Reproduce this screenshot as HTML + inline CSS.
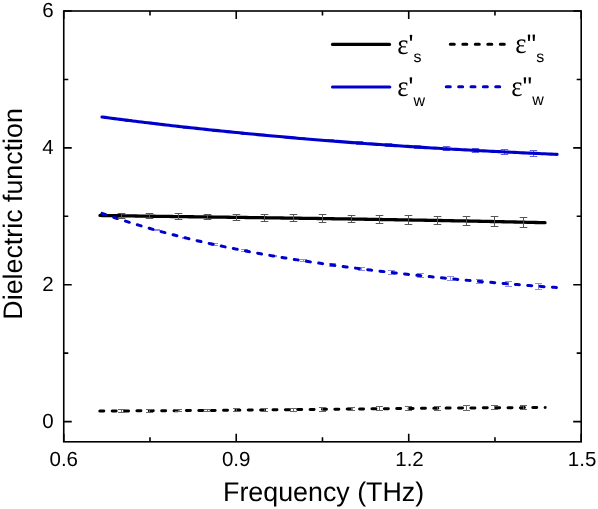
<!DOCTYPE html>
<html><head><meta charset="utf-8"><style>
html,body{margin:0;padding:0;background:#fff;}
svg{display:block;will-change:transform;}
text{font-family:"Liberation Sans",sans-serif;fill:#000;text-rendering:geometricPrecision;}
.tl{font-size:20.5px;}
.at{font-size:26.8px;}
.eps{font-family:"Liberation Serif",serif;font-size:29px;}
.lg{font-size:28.5px;}
.sub{font-size:16px;}
</style></head><body>
<svg width="598" height="509" viewBox="0 0 598 509">
<rect width="598" height="509" fill="#fff"/>
<path d="M156.50,229.50V230.50M153.00,229.50h7.0M153.00,230.50h7.0" stroke="#8c8ce8" stroke-width="1" fill="none"/>
<path d="M185.50,237.50V238.50M182.00,237.50h7.0M182.00,238.50h7.0" stroke="#8c8ce8" stroke-width="1" fill="none"/>
<path d="M214.50,243.50V245.50M211.00,243.50h7.0M211.00,245.50h7.0" stroke="#8c8ce8" stroke-width="1" fill="none"/>
<path d="M244.50,249.50V251.50M241.00,249.50h7.0M241.00,251.50h7.0" stroke="#8c8ce8" stroke-width="1" fill="none"/>
<path d="M273.50,255.50V256.50M270.00,255.50h7.0M270.00,256.50h7.0" stroke="#8c8ce8" stroke-width="1" fill="none"/>
<path d="M303.50,259.50V261.50M300.00,259.50h7.0M300.00,261.50h7.0" stroke="#8c8ce8" stroke-width="1" fill="none"/>
<path d="M332.50,263.50V266.50M329.00,263.50h7.0M329.00,266.50h7.0" stroke="#8c8ce8" stroke-width="1" fill="none"/>
<path d="M361.50,267.50V270.50M358.00,267.50h7.0M358.00,270.50h7.0" stroke="#8c8ce8" stroke-width="1" fill="none"/>
<path d="M391.50,270.50V274.50M388.00,270.50h7.0M388.00,274.50h7.0" stroke="#8c8ce8" stroke-width="1" fill="none"/>
<path d="M420.50,273.50V277.50M417.00,273.50h7.0M417.00,277.50h7.0" stroke="#8c8ce8" stroke-width="1" fill="none"/>
<path d="M450.50,276.50V280.50M447.00,276.50h7.0M447.00,280.50h7.0" stroke="#8c8ce8" stroke-width="1" fill="none"/>
<path d="M479.50,279.50V283.50M476.00,279.50h7.0M476.00,283.50h7.0" stroke="#8c8ce8" stroke-width="1" fill="none"/>
<path d="M508.50,281.50V286.50M505.00,281.50h7.0M505.00,286.50h7.0" stroke="#8c8ce8" stroke-width="1" fill="none"/>
<path d="M538.50,283.50V289.50M535.00,283.50h7.0M535.00,289.50h7.0" stroke="#8c8ce8" stroke-width="1" fill="none"/>
<path d="M533.50,150.50V156.50M529.80,150.50h7.4M529.80,156.50h7.4" stroke="#6060e0" stroke-width="1" fill="none"/>
<path d="M504.50,149.50V154.50M500.80,149.50h7.4M500.80,154.50h7.4" stroke="#6060e0" stroke-width="1" fill="none"/>
<path d="M475.50,148.50V152.50M471.80,148.50h7.4M471.80,152.50h7.4" stroke="#6060e0" stroke-width="1" fill="none"/>
<path d="M446.50,146.50V150.50M442.80,146.50h7.4M442.80,150.50h7.4" stroke="#6060e0" stroke-width="1" fill="none"/>
<path d="M417.50,145.50V148.50M413.80,145.50h7.4M413.80,148.50h7.4" stroke="#6060e0" stroke-width="1" fill="none"/>
<path d="M388.50,143.50V146.50M384.80,143.50h7.4M384.80,146.50h7.4" stroke="#6060e0" stroke-width="1" fill="none"/>
<path d="M359.50,141.50V144.50M355.80,141.50h7.4M355.80,144.50h7.4" stroke="#6060e0" stroke-width="1" fill="none"/>
<path d="M330.50,139.50V141.50M326.80,139.50h7.4M326.80,141.50h7.4" stroke="#6060e0" stroke-width="1" fill="none"/>
<path d="M301.50,137.50V139.50M297.80,137.50h7.4M297.80,139.50h7.4" stroke="#6060e0" stroke-width="1" fill="none"/>
<path d="M273.50,135.50V136.50M269.80,135.50h7.4M269.80,136.50h7.4" stroke="#6060e0" stroke-width="1" fill="none"/>
<path d="M244.50,132.50V134.50M240.80,132.50h7.4M240.80,134.50h7.4" stroke="#6060e0" stroke-width="1" fill="none"/>
<path d="M215.50,129.50V131.50M211.80,129.50h7.4M211.80,131.50h7.4" stroke="#6060e0" stroke-width="1" fill="none"/>
<path d="M186.50,126.50V128.50M182.80,126.50h7.4M182.80,128.50h7.4" stroke="#6060e0" stroke-width="1" fill="none"/>
<path d="M157.50,123.50V124.50M153.80,123.50h7.4M153.80,124.50h7.4" stroke="#6060e0" stroke-width="1" fill="none"/>
<path d="M128.50,119.50V121.50M124.80,119.50h7.4M124.80,121.50h7.4" stroke="#6060e0" stroke-width="1" fill="none"/>
<path d="M100.00,215.47 L102.99,215.51 L105.97,215.56 L108.96,215.60 L111.95,215.64 L114.93,215.69 L117.92,215.73 L120.91,215.77 L123.89,215.82 L126.88,215.86 L129.87,215.90 L132.85,215.94 L135.84,215.99 L138.83,216.03 L141.81,216.07 L144.80,216.11 L147.79,216.15 L150.77,216.20 L153.76,216.24 L156.74,216.28 L159.73,216.32 L162.72,216.36 L165.70,216.40 L168.69,216.45 L171.68,216.49 L174.66,216.53 L177.65,216.57 L180.64,216.61 L183.62,216.65 L186.61,216.69 L189.60,216.73 L192.58,216.77 L195.57,216.81 L198.56,216.85 L201.54,216.90 L204.53,216.94 L207.52,216.98 L210.50,217.02 L213.49,217.06 L216.48,217.10 L219.46,217.14 L222.45,217.18 L225.44,217.22 L228.42,217.26 L231.41,217.30 L234.40,217.34 L237.38,217.38 L240.37,217.43 L243.36,217.47 L246.34,217.51 L249.33,217.55 L252.32,217.59 L255.30,217.63 L258.29,217.67 L261.28,217.71 L264.26,217.75 L267.25,217.80 L270.23,217.84 L273.22,217.88 L276.21,217.92 L279.19,217.96 L282.18,218.00 L285.17,218.05 L288.15,218.09 L291.14,218.13 L294.13,218.17 L297.11,218.22 L300.10,218.26 L303.09,218.30 L306.07,218.34 L309.06,218.39 L312.05,218.43 L315.03,218.47 L318.02,218.52 L321.01,218.56 L323.99,218.61 L326.98,218.65 L329.97,218.69 L332.95,218.74 L335.94,218.78 L338.93,218.83 L341.91,218.87 L344.90,218.92 L347.89,218.96 L350.87,219.01 L353.86,219.06 L356.85,219.10 L359.83,219.15 L362.82,219.20 L365.81,219.24 L368.79,219.29 L371.78,219.34 L374.77,219.39 L377.75,219.43 L380.74,219.48 L383.72,219.53 L386.71,219.58 L389.70,219.63 L392.68,219.68 L395.67,219.73 L398.66,219.78 L401.64,219.83 L404.63,219.88 L407.62,219.93 L410.60,219.98 L413.59,220.03 L416.58,220.08 L419.56,220.14 L422.55,220.19 L425.54,220.24 L428.52,220.29 L431.51,220.35 L434.50,220.40 L437.48,220.46 L440.47,220.51 L443.46,220.57 L446.44,220.62 L449.43,220.68 L452.42,220.73 L455.40,220.79 L458.39,220.85 L461.38,220.91 L464.36,220.96 L467.35,221.02 L470.34,221.08 L473.32,221.14 L476.31,221.20 L479.30,221.26 L482.28,221.32 L485.27,221.38 L488.26,221.44 L491.24,221.50 L494.23,221.56 L497.21,221.63 L500.20,221.69 L503.19,221.75 L506.17,221.82 L509.16,221.88 L512.15,221.95 L515.13,222.01 L518.12,222.08 L521.11,222.15 L524.09,222.21 L527.08,222.28 L530.07,222.35 L533.05,222.42 L536.04,222.49 L539.03,222.56 L542.01,222.63 L545.00,222.70" stroke="#000" stroke-width="3.3" fill="none" stroke-linecap="round"/>
<path d="M99.80,410.94 L102.79,410.94 L105.78,410.93 L108.77,410.93 L111.76,410.93 L114.75,410.92 L117.74,410.91 L120.72,410.91 L123.71,410.90 L126.70,410.89 L129.69,410.88 L132.68,410.87 L135.67,410.86 L138.66,410.85 L141.65,410.84 L144.64,410.83 L147.63,410.81 L150.62,410.80 L153.61,410.79 L156.60,410.77 L159.59,410.76 L162.57,410.74 L165.56,410.72 L168.55,410.71 L171.54,410.69 L174.53,410.67 L177.52,410.65 L180.51,410.64 L183.50,410.62 L186.49,410.60 L189.48,410.58 L192.47,410.56 L195.46,410.53 L198.45,410.51 L201.43,410.49 L204.42,410.47 L207.41,410.44 L210.40,410.42 L213.39,410.40 L216.38,410.37 L219.37,410.35 L222.36,410.32 L225.35,410.30 L228.34,410.27 L231.33,410.25 L234.32,410.22 L237.31,410.19 L240.30,410.17 L243.28,410.14 L246.27,410.11 L249.26,410.08 L252.25,410.06 L255.24,410.03 L258.23,410.00 L261.22,409.97 L264.21,409.94 L267.20,409.91 L270.19,409.88 L273.18,409.85 L276.17,409.82 L279.16,409.79 L282.14,409.76 L285.13,409.73 L288.12,409.70 L291.11,409.67 L294.10,409.64 L297.09,409.61 L300.08,409.58 L303.07,409.55 L306.06,409.52 L309.05,409.48 L312.04,409.45 L315.03,409.42 L318.02,409.39 L321.01,409.36 L323.99,409.33 L326.98,409.29 L329.97,409.26 L332.96,409.23 L335.95,409.20 L338.94,409.17 L341.93,409.14 L344.92,409.10 L347.91,409.07 L350.90,409.04 L353.89,409.01 L356.88,408.98 L359.87,408.95 L362.86,408.91 L365.84,408.88 L368.83,408.85 L371.82,408.82 L374.81,408.79 L377.80,408.76 L380.79,408.73 L383.78,408.70 L386.77,408.67 L389.76,408.64 L392.75,408.61 L395.74,408.58 L398.73,408.55 L401.72,408.52 L404.70,408.49 L407.69,408.46 L410.68,408.43 L413.67,408.40 L416.66,408.38 L419.65,408.35 L422.64,408.32 L425.63,408.29 L428.62,408.27 L431.61,408.24 L434.60,408.21 L437.59,408.19 L440.58,408.16 L443.57,408.14 L446.55,408.11 L449.54,408.09 L452.53,408.06 L455.52,408.04 L458.51,408.02 L461.50,407.99 L464.49,407.97 L467.48,407.95 L470.47,407.93 L473.46,407.90 L476.45,407.88 L479.44,407.86 L482.43,407.84 L485.41,407.82 L488.40,407.81 L491.39,407.79 L494.38,407.77 L497.37,407.75 L500.36,407.73 L503.35,407.72 L506.34,407.70 L509.33,407.69 L512.32,407.67 L515.31,407.66 L518.30,407.65 L521.29,407.63 L524.28,407.62 L527.26,407.61 L530.25,407.60 L533.24,407.59 L536.23,407.58 L539.22,407.57 L542.21,407.56 L545.20,407.55" stroke="#000" stroke-width="3" fill="none" stroke-linecap="round" stroke-dasharray="4 8.37"/>
<path d="M102.00,117.00 L105.05,117.40 L108.11,117.81 L111.16,118.20 L114.22,118.60 L117.27,118.99 L120.33,119.38 L123.38,119.77 L126.43,120.16 L129.49,120.54 L132.54,120.93 L135.60,121.30 L138.65,121.68 L141.71,122.06 L144.76,122.43 L147.82,122.80 L150.87,123.16 L153.92,123.53 L156.98,123.89 L160.03,124.25 L163.09,124.61 L166.14,124.96 L169.20,125.32 L172.25,125.67 L175.30,126.02 L178.36,126.36 L181.41,126.71 L184.47,127.05 L187.52,127.39 L190.58,127.72 L193.63,128.06 L196.69,128.39 L199.74,128.72 L202.79,129.05 L205.85,129.38 L208.90,129.70 L211.96,130.02 L215.01,130.34 L218.07,130.66 L221.12,130.97 L224.17,131.29 L227.23,131.60 L230.28,131.90 L233.34,132.21 L236.39,132.52 L239.45,132.82 L242.50,133.12 L245.56,133.42 L248.61,133.71 L251.66,134.00 L254.72,134.30 L257.77,134.59 L260.83,134.87 L263.88,135.16 L266.94,135.44 L269.99,135.72 L273.04,136.00 L276.10,136.28 L279.15,136.56 L282.21,136.83 L285.26,137.10 L288.32,137.37 L291.37,137.64 L294.42,137.90 L297.48,138.17 L300.53,138.43 L303.59,138.69 L306.64,138.94 L309.70,139.20 L312.75,139.45 L315.81,139.71 L318.86,139.96 L321.91,140.20 L324.97,140.45 L328.02,140.69 L331.08,140.94 L334.13,141.18 L337.19,141.42 L340.24,141.65 L343.29,141.89 L346.35,142.12 L349.40,142.35 L352.46,142.58 L355.51,142.81 L358.57,143.04 L361.62,143.26 L364.68,143.48 L367.73,143.71 L370.78,143.92 L373.84,144.14 L376.89,144.36 L379.95,144.57 L383.00,144.78 L386.06,144.99 L389.11,145.20 L392.16,145.41 L395.22,145.62 L398.27,145.82 L401.33,146.02 L404.38,146.22 L407.44,146.42 L410.49,146.62 L413.54,146.81 L416.60,147.01 L419.65,147.20 L422.71,147.39 L425.76,147.58 L428.82,147.77 L431.87,147.95 L434.93,148.14 L437.98,148.32 L441.03,148.50 L444.09,148.68 L447.14,148.86 L450.20,149.04 L453.25,149.21 L456.31,149.39 L459.36,149.56 L462.41,149.73 L465.47,149.90 L468.52,150.07 L471.58,150.23 L474.63,150.40 L477.69,150.56 L480.74,150.72 L483.80,150.89 L486.85,151.04 L489.90,151.20 L492.96,151.36 L496.01,151.51 L499.07,151.67 L502.12,151.82 L505.18,151.97 L508.23,152.12 L511.28,152.27 L514.34,152.42 L517.39,152.56 L520.45,152.70 L523.50,152.85 L526.56,152.99 L529.61,153.13 L532.67,153.27 L535.72,153.41 L538.77,153.54 L541.83,153.68 L544.88,153.81 L547.94,153.95 L550.99,154.08 L554.05,154.21 L557.10,154.34" stroke="#0000cc" stroke-width="3.1" fill="none" stroke-linecap="round"/>
<path d="M102.00,213.37 L105.05,214.42 L108.10,215.46 L111.16,216.48 L114.21,217.50 L117.26,218.50 L120.31,219.49 L123.37,220.46 L126.42,221.43 L129.47,222.38 L132.52,223.32 L135.58,224.25 L138.63,225.17 L141.68,226.07 L144.73,226.97 L147.79,227.85 L150.84,228.72 L153.89,229.59 L156.94,230.44 L159.99,231.28 L163.05,232.11 L166.10,232.93 L169.15,233.73 L172.20,234.53 L175.26,235.32 L178.31,236.10 L181.36,236.87 L184.41,237.63 L187.47,238.38 L190.52,239.12 L193.57,239.85 L196.62,240.57 L199.68,241.28 L202.73,241.98 L205.78,242.67 L208.83,243.36 L211.88,244.04 L214.94,244.70 L217.99,245.36 L221.04,246.01 L224.09,246.65 L227.15,247.29 L230.20,247.91 L233.25,248.53 L236.30,249.14 L239.36,249.75 L242.41,250.34 L245.46,250.93 L248.51,251.51 L251.57,252.08 L254.62,252.65 L257.67,253.21 L260.72,253.76 L263.77,254.31 L266.83,254.84 L269.88,255.38 L272.93,255.90 L275.98,256.42 L279.04,256.94 L282.09,257.44 L285.14,257.94 L288.19,258.44 L291.25,258.93 L294.30,259.41 L297.35,259.89 L300.40,260.37 L303.46,260.83 L306.51,261.30 L309.56,261.75 L312.61,262.21 L315.66,262.66 L318.72,263.10 L321.77,263.54 L324.82,263.97 L327.87,264.40 L330.93,264.83 L333.98,265.25 L337.03,265.67 L340.08,266.08 L343.14,266.49 L346.19,266.90 L349.24,267.30 L352.29,267.70 L355.34,268.10 L358.40,268.49 L361.45,268.87 L364.50,269.26 L367.55,269.64 L370.61,270.01 L373.66,270.39 L376.71,270.76 L379.76,271.12 L382.82,271.48 L385.87,271.84 L388.92,272.20 L391.97,272.55 L395.03,272.90 L398.08,273.24 L401.13,273.59 L404.18,273.93 L407.23,274.26 L410.29,274.59 L413.34,274.92 L416.39,275.25 L419.44,275.57 L422.50,275.89 L425.55,276.21 L428.60,276.53 L431.65,276.84 L434.71,277.15 L437.76,277.45 L440.81,277.76 L443.86,278.06 L446.92,278.35 L449.97,278.65 L453.02,278.94 L456.07,279.23 L459.12,279.52 L462.18,279.80 L465.23,280.09 L468.28,280.37 L471.33,280.64 L474.39,280.92 L477.44,281.19 L480.49,281.46 L483.54,281.73 L486.60,282.00 L489.65,282.26 L492.70,282.52 L495.75,282.78 L498.81,283.04 L501.86,283.30 L504.91,283.55 L507.96,283.80 L511.01,284.05 L514.07,284.30 L517.12,284.54 L520.17,284.79 L523.22,285.03 L526.28,285.27 L529.33,285.51 L532.38,285.75 L535.43,285.98 L538.49,286.22 L541.54,286.45 L544.59,286.68 L547.64,286.91 L550.70,287.14 L553.75,287.36 L556.80,287.59" stroke="#0000cc" stroke-width="3" fill="none" stroke-linecap="round" stroke-dasharray="4 8.37"/>
<path d="M121.50,213.50V218.50M117.70,213.50h7.6M117.70,218.50h7.6" stroke="#555" stroke-width="1" fill="none"/>
<path d="M121.50,409.50V412.50M118.00,409.50h7.0M118.00,412.50h7.0" stroke="#666" stroke-width="1" fill="none"/>
<path d="M149.50,213.50V218.50M145.70,213.50h7.6M145.70,218.50h7.6" stroke="#555" stroke-width="1" fill="none"/>
<path d="M149.50,409.50V412.50M146.00,409.50h7.0M146.00,412.50h7.0" stroke="#666" stroke-width="1" fill="none"/>
<path d="M178.50,213.50V219.50M174.70,213.50h7.6M174.70,219.50h7.6" stroke="#555" stroke-width="1" fill="none"/>
<path d="M178.50,409.50V411.50M175.00,409.50h7.0M175.00,411.50h7.0" stroke="#666" stroke-width="1" fill="none"/>
<path d="M207.50,214.50V219.50M203.70,214.50h7.6M203.70,219.50h7.6" stroke="#555" stroke-width="1" fill="none"/>
<path d="M207.50,409.50V411.50M204.00,409.50h7.0M204.00,411.50h7.0" stroke="#666" stroke-width="1" fill="none"/>
<path d="M236.50,214.50V220.50M232.70,214.50h7.6M232.70,220.50h7.6" stroke="#555" stroke-width="1" fill="none"/>
<path d="M236.50,408.50V411.50M233.00,408.50h7.0M233.00,411.50h7.0" stroke="#666" stroke-width="1" fill="none"/>
<path d="M264.50,214.50V221.50M260.70,214.50h7.6M260.70,221.50h7.6" stroke="#555" stroke-width="1" fill="none"/>
<path d="M264.50,408.50V411.50M261.00,408.50h7.0M261.00,411.50h7.0" stroke="#666" stroke-width="1" fill="none"/>
<path d="M293.50,214.50V221.50M289.70,214.50h7.6M289.70,221.50h7.6" stroke="#555" stroke-width="1" fill="none"/>
<path d="M293.50,408.50V411.50M290.00,408.50h7.0M290.00,411.50h7.0" stroke="#666" stroke-width="1" fill="none"/>
<path d="M322.50,214.50V222.50M318.70,214.50h7.6M318.70,222.50h7.6" stroke="#555" stroke-width="1" fill="none"/>
<path d="M322.50,407.50V411.50M319.00,407.50h7.0M319.00,411.50h7.0" stroke="#666" stroke-width="1" fill="none"/>
<path d="M351.50,215.50V222.50M347.70,215.50h7.6M347.70,222.50h7.6" stroke="#555" stroke-width="1" fill="none"/>
<path d="M351.50,407.50V410.50M348.00,407.50h7.0M348.00,410.50h7.0" stroke="#666" stroke-width="1" fill="none"/>
<path d="M379.50,215.50V223.50M375.70,215.50h7.6M375.70,223.50h7.6" stroke="#555" stroke-width="1" fill="none"/>
<path d="M379.50,406.50V410.50M376.00,406.50h7.0M376.00,410.50h7.0" stroke="#666" stroke-width="1" fill="none"/>
<path d="M408.50,215.50V224.50M404.70,215.50h7.6M404.70,224.50h7.6" stroke="#555" stroke-width="1" fill="none"/>
<path d="M408.50,406.50V410.50M405.00,406.50h7.0M405.00,410.50h7.0" stroke="#666" stroke-width="1" fill="none"/>
<path d="M437.50,216.50V224.50M433.70,216.50h7.6M433.70,224.50h7.6" stroke="#555" stroke-width="1" fill="none"/>
<path d="M437.50,406.50V410.50M434.00,406.50h7.0M434.00,410.50h7.0" stroke="#666" stroke-width="1" fill="none"/>
<path d="M466.50,216.50V225.50M462.70,216.50h7.6M462.70,225.50h7.6" stroke="#555" stroke-width="1" fill="none"/>
<path d="M466.50,405.50V410.50M463.00,405.50h7.0M463.00,410.50h7.0" stroke="#666" stroke-width="1" fill="none"/>
<path d="M494.50,216.50V226.50M490.70,216.50h7.6M490.70,226.50h7.6" stroke="#555" stroke-width="1" fill="none"/>
<path d="M494.50,405.50V409.50M491.00,405.50h7.0M491.00,409.50h7.0" stroke="#666" stroke-width="1" fill="none"/>
<path d="M523.50,217.50V227.50M519.70,217.50h7.6M519.70,227.50h7.6" stroke="#555" stroke-width="1" fill="none"/>
<path d="M523.50,405.50V409.50M520.00,405.50h7.0M520.00,409.50h7.0" stroke="#666" stroke-width="1" fill="none"/>
<rect x="63.75" y="11.0" width="517.45" height="430.8" fill="none" stroke="#000" stroke-width="1.6"/>
<path d="M63.75,421.60h8M581.2,421.60h-8M63.75,353.17h4.5M581.2,353.17h-4.5M63.75,284.73h8M581.2,284.73h-8M63.75,216.30h4.5M581.2,216.30h-4.5M63.75,147.87h8M581.2,147.87h-8M63.75,79.43h4.5M581.2,79.43h-4.5M63.75,11.00h8M581.2,11.00h-8M63.75,441.8v-8M63.75,11.0v8M149.99,441.8v-4.5M149.99,11.0v4.5M236.23,441.8v-8M236.23,11.0v8M322.47,441.8v-4.5M322.47,11.0v4.5M408.72,441.8v-8M408.72,11.0v8M494.96,441.8v-4.5M494.96,11.0v4.5M581.20,441.8v-8M581.20,11.0v8" stroke="#000" stroke-width="1.6" fill="none"/>
<text x="53.6" y="427.70" text-anchor="end" class="tl">0</text>
<text x="53.6" y="290.83" text-anchor="end" class="tl">2</text>
<text x="53.6" y="153.97" text-anchor="end" class="tl">4</text>
<text x="53.6" y="17.10" text-anchor="end" class="tl">6</text>
<text x="63.75" y="465.6" text-anchor="middle" class="tl">0.6</text>
<text x="236.23" y="465.6" text-anchor="middle" class="tl">0.9</text>
<text x="409.52" y="465.6" text-anchor="middle" class="tl">1.2</text>
<text x="582.10" y="465.6" text-anchor="middle" class="tl">1.5</text>
<text x="323.6" y="500.5" text-anchor="middle" class="at">Frequency (THz)</text>
<text transform="translate(22.2,213.9) rotate(-90)" x="0" y="0" text-anchor="middle" class="at">Dielectric function</text>
<path d="M332.5,44.4H389.5" stroke="#000" stroke-width="3.2" stroke-linecap="round"/>
<path d="M450.3,44.3H504.4" stroke="#000" stroke-width="3" stroke-linecap="round" stroke-dasharray="4 8.5"/>
<path d="M332.5,87H389.8" stroke="#0000cc" stroke-width="3.1" stroke-linecap="round"/>
<path d="M446.3,86.7H499.8" stroke="#0000cc" stroke-width="3" stroke-linecap="round" stroke-dasharray="4 8.35"/>
<text transform="translate(397.2,53.6) scale(0.92,1)" class="eps">ε</text>
<path d="M409.75,35.00Q411.00,34.25 412.25,35.00L411.80,40.70L410.20,40.70Z" fill="#000"/>
<text x="413.40" y="62.40" class="sub">s</text>
<text transform="translate(515.3,53.3) scale(0.92,1)" class="eps">ε</text>
<path d="M527.75,34.80Q529.00,34.05 530.25,34.80L529.80,40.90L528.20,40.90ZM532.55,34.80Q533.80,34.05 535.05,34.80L534.60,40.90L533.00,40.90Z" fill="#000"/>
<text x="536.20" y="62.10" class="sub">s</text>
<text transform="translate(397.2,96.1) scale(0.92,1)" class="eps">ε</text>
<path d="M409.65,77.60Q410.90,76.85 412.15,77.60L411.70,83.60L410.10,83.60Z" fill="#000"/>
<text x="413.60" y="105.50" class="sub">w</text>
<text transform="translate(511.2,96.4) scale(0.92,1)" class="eps">ε</text>
<path d="M523.65,77.60Q524.90,76.85 526.15,77.60L525.70,83.60L524.10,83.60ZM528.50,77.60Q529.75,76.85 531.00,77.60L530.55,83.60L528.95,83.60Z" fill="#000"/>
<text x="532.20" y="105.20" class="sub">w</text>
</svg>
</body></html>
